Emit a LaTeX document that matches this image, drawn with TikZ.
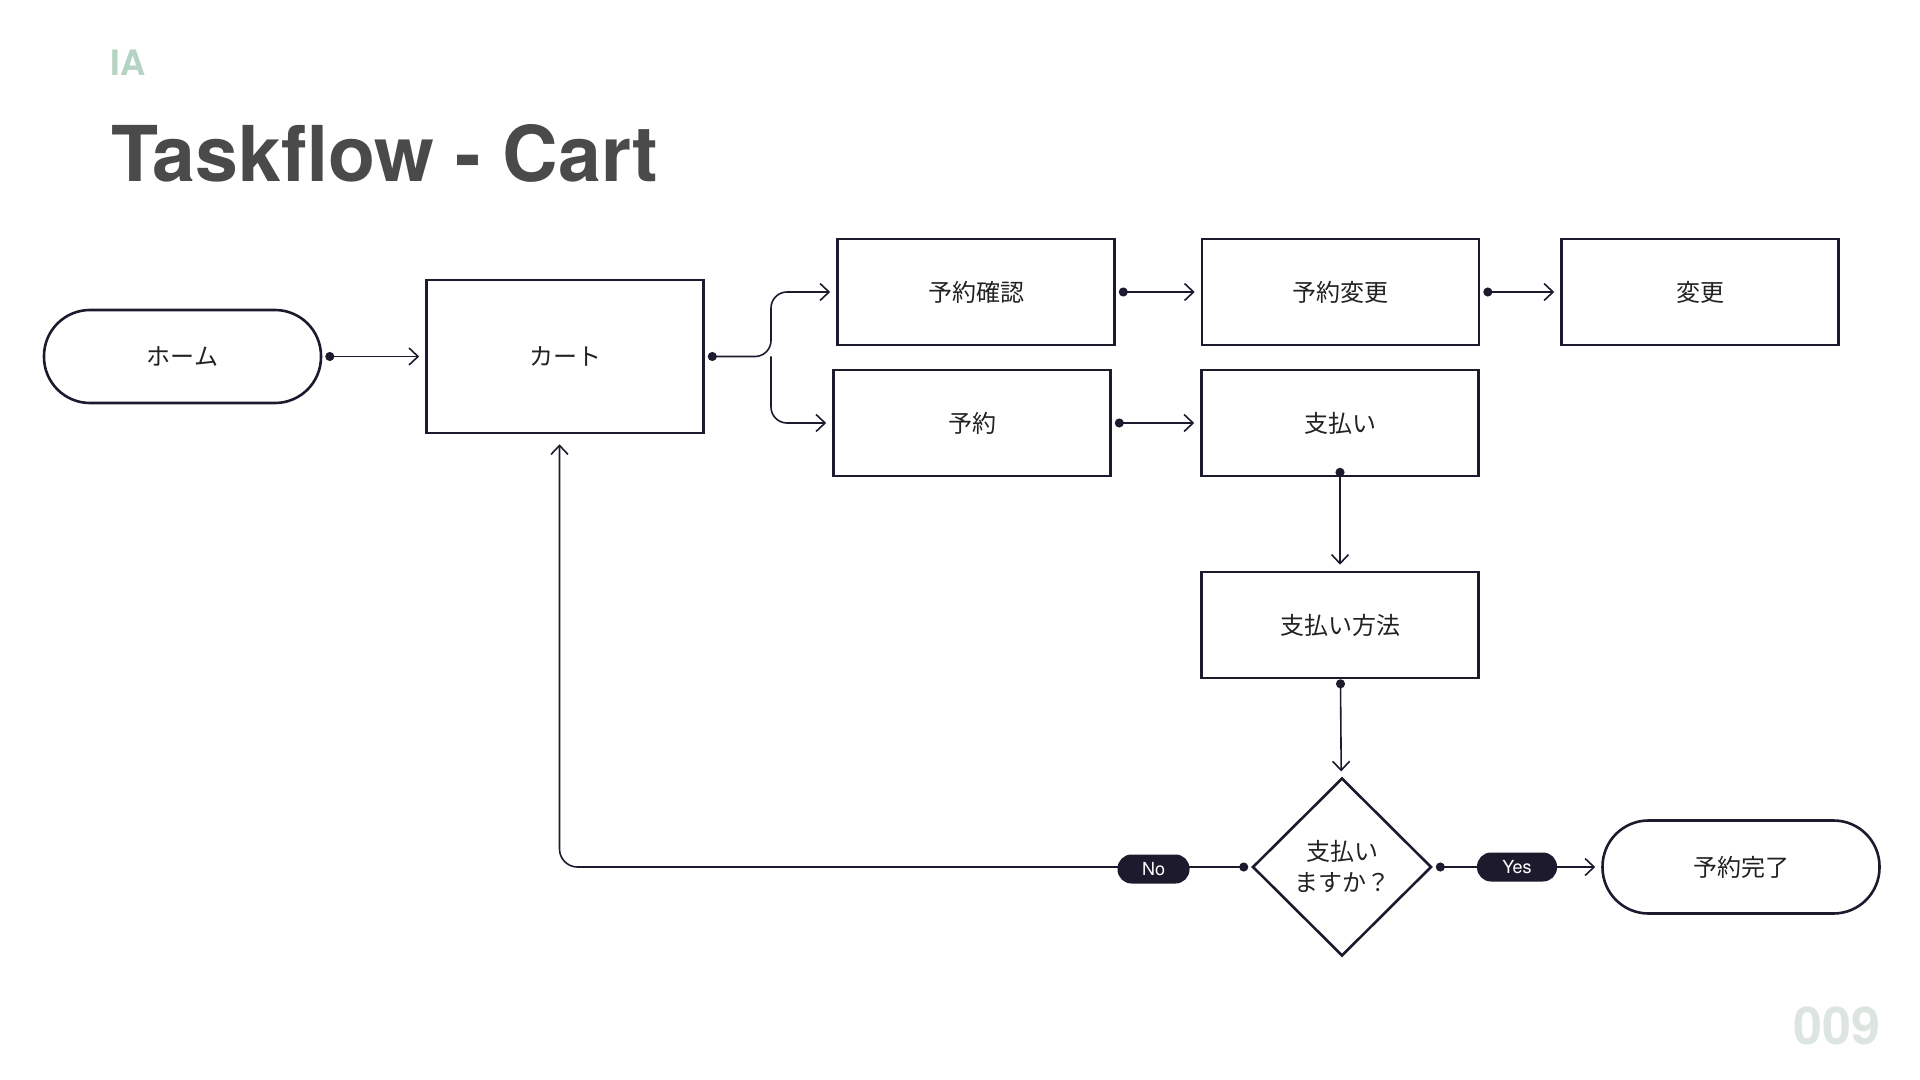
\documentclass[tikz,border=0pt]{standalone}
\usepackage{fontspec}
\setmainfont{TeX Gyre Heros}
\newfontfamily\jpfont{Noto Sans CJK JP}
\usetikzlibrary{arrows.meta}
\usetikzlibrary{shapes.geometric}

\definecolor{ink}{HTML}{1E1A2E}
\definecolor{txt}{HTML}{222222}
\definecolor{titlegrey}{HTML}{4A4A4A}
\definecolor{iagreen}{HTML}{B5D3C2}
\definecolor{pagegrey}{HTML}{DCE5E0}

\begin{document}
\begin{tikzpicture}[x=0.5pt,y=-0.5pt,
    box/.style={draw=ink,line width=1.3pt,fill=white,minimum width=138.5pt,minimum height=53pt,
                font=\jpfont\fontsize{12}{15}\selectfont,text=txt},
    term/.style={box,rounded corners=23pt,minimum height=46.5pt},
    decision/.style={box,diamond,minimum width=89.5pt,minimum height=89pt,inner sep=0pt,
                align=center,font=\jpfont\fontsize{12}{15.5}\selectfont},
    pill/.style={fill=ink,text=white,rounded corners=7pt,minimum width=36pt,minimum height=14.5pt,
                inner sep=0pt,font=\fontsize{9}{10}\selectfont},
    flow/.style={draw=ink,line width=0.8pt,{Circle[length=4.5pt]}-{Straight Barb[length=4.5pt,width=8.5pt]},
                shorten <=1.5pt,shorten >=3pt},
    link/.style={draw=ink,line width=0.8pt,-{Straight Barb[length=4.5pt,width=8.5pt]},shorten >=3pt}
                ]
            \path[use as bounding box,fill=white] (0,0) rectangle (1920,1080);

            \node[anchor=base west,inner sep=0pt,text=iagreen,font=\bfseries\fontsize{17.5}{20}\selectfont] (tag) at (110,76) {IA};
            \node[anchor=base west,inner sep=0pt,text=titlegrey,font=\bfseries\fontsize{38.5}{42}\selectfont] (title) at (111,182) {Taskflow - Cart};
            \node[anchor=base east,inner sep=0pt,text=pagegrey,font=\bfseries\fontsize{26}{30}\selectfont] (page) at (1881,1044) {009};

            \node[term] (home) at (182.5,356.5) {ホーム};
            \node[box,minimum height=76.5pt] (cart) at (565,356.5) {カート};

            \node[box] (check) at (976,292) {予約確認};
            \node[box] (change) at (1340.5,292) {予約変更};
            \node[box] (edit) at (1700,292) {変更};

            \node[box] (resv) at (972,423) {予約};
            \node[box] (pay) at (1340,423) {支払い};
            \node[box] (method) at (1340,625) {支払い方法};

            \node[decision] (ask) at (1342,867) {支払い\\ますか？};
            \node[term] (done) at (1741,867) {予約完了};

            \coordinate (fork) at (771,356.5);

            \draw[flow] (home) to (cart);
            \draw[flow,rounded corners=8pt] (cart) -- (fork) |- (check.west);
            \draw[link,rounded corners=8pt] (fork) |- (resv.west);

            \draw[flow] (check) to (change);
            \draw[flow] (change) to (edit);
            \draw[flow] (resv) to (pay);

            \draw[flow,shorten <=-4.75pt] (pay) to (method);
            \draw[flow,shorten <=0pt] (method) to (ask);

            \draw[flow,rounded corners=9pt,shorten >=5pt] (ask.west) -| ([xshift=-2.75pt]cart.south);
            \draw[flow] (ask) to (done);

            \node[pill] (no) at (1153.5,869) {No};
            \node[pill,minimum width=40pt] (yes) at (1517,867) {Yes};

            \end{tikzpicture}
\end{document}
